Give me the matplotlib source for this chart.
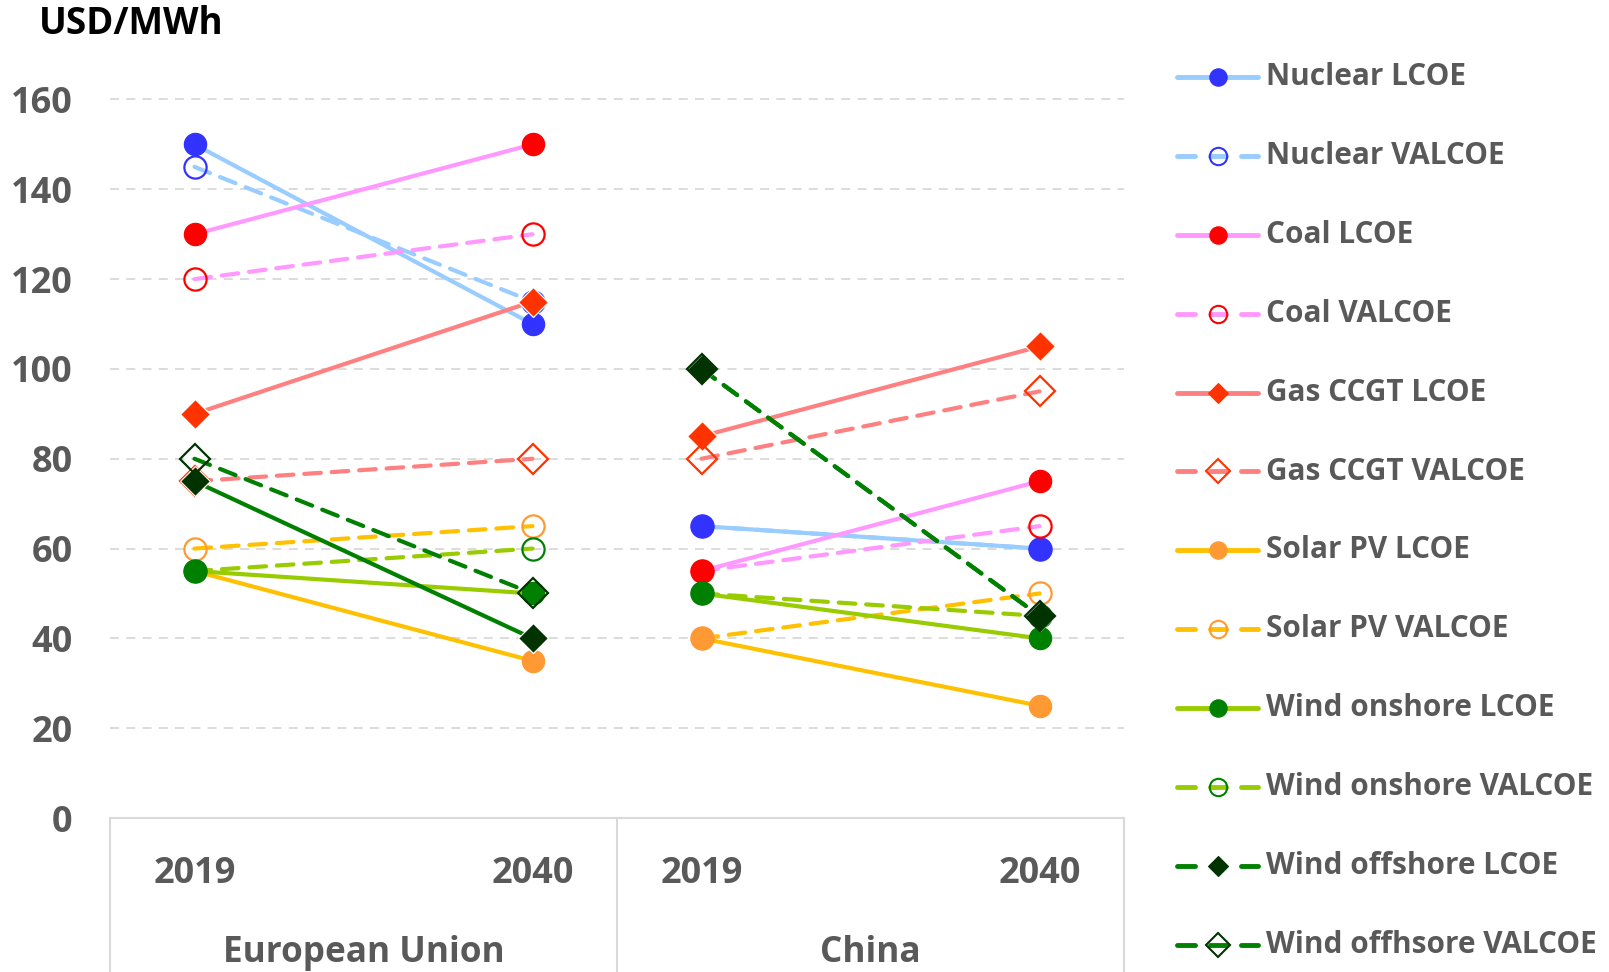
import numpy as np
import matplotlib
matplotlib.use("Agg")
import matplotlib.pyplot as plt
from matplotlib.lines import Line2D

plt.rcParams["font.family"] = ["Open Sans", "DejaVu Sans"]

# Values per series: [EU 2019, EU 2040, China 2019, China 2040]  (USD/MWh)
nuclear_lcoe = [150, 110, 65, 60]
nuclear_valcoe = [145, 115, 65, 60]
coal_lcoe = [130, 150, 55, 75]
coal_valcoe = [120, 130, 55, 65]
gas_lcoe = [90, 115, 85, 105]
gas_valcoe = [75, 80, 80, 95]
solar_lcoe = [55, 35, 40, 25]
solar_valcoe = [60, 65, 40, 50]
onshore_lcoe = [55, 50, 50, 40]
onshore_valcoe = [55, 60, 50, 45]
offshore_lcoe = [75, 40, 100, 45]
offshore_valcoe = [80, 50, 100, 45]

series_names = [
    "Nuclear LCOE", "Nuclear VALCOE", "Coal LCOE", "Coal VALCOE",
    "Gas CCGT LCOE", "Gas CCGT VALCOE", "Solar PV LCOE", "Solar PV VALCOE",
    "Wind onshore LCOE", "Wind onshore VALCOE", "Wind offshore LCOE",
    "Wind offhsore VALCOE",
]
series_values = [
    nuclear_lcoe, nuclear_valcoe, coal_lcoe, coal_valcoe, gas_lcoe, gas_valcoe,
    solar_lcoe, solar_valcoe, onshore_lcoe, onshore_valcoe, offshore_lcoe,
    offshore_valcoe,
]
year_labels = ["2019", "2040", "2019", "2040"]
regions = ["European Union", "China"]
y_ticks = [0, 20, 40, 60, 80, 100, 120, 140, 160]

# style: line colour, marker, marker colour, filled, (EU linestyle, China linestyle)
styles = [
    ("#99CCFF", "o", "#3333FF", True, ("-", "-")),
    ("#99CCFF", "o", "#3333FF", False, ("--", "--")),
    ("#FF99FF", "o", "#FF0000", True, ("-", "-")),
    ("#FF99FF", "o", "#FF0000", False, ("--", "--")),
    ("#FF8080", "D", "#FF3300", True, ("-", "-")),
    ("#FF8080", "D", "#FF3300", False, ("--", "--")),
    ("#FFC000", "o", "#FF9933", True, ("-", "-")),
    ("#FFC000", "o", "#FF9933", False, ("--", "--")),
    ("#99CC00", "o", "#008000", True, ("-", "-")),
    ("#99CC00", "o", "#008000", False, ("--", "--")),
    ("#008000", "D", "#003300", True, ("-", "--")),
    ("#008000", "D", "#003300", False, ("--", "--")),
]

W, H = 1609, 972
fig = plt.figure(figsize=(W / 100, H / 100), dpi=100)
fig.patch.set_facecolor("white")

left, right, top, bottom = 110, 1124, 99.5, 818
ax = fig.add_axes([left / W, 1 - bottom / H, (right - left) / W, (bottom - top) / H])

# six category slots: year points sit at slots 0, 2 (EU) and 3, 5 (China)
x_pos = [0, 2, 3, 5]
ax.set_xlim(-0.5, 5.5)
ax.set_ylim(0, 160)

TEXT = "#595959"
GRID = "#D9D9D9"
DASH = (4, 2.6)

for vals, (lc, mk, mc, filled, ls) in zip(series_values, styles):
    for g in range(2):
        xs = x_pos[2 * g:2 * g + 2]
        ys = vals[2 * g:2 * g + 2]
        line, = ax.plot(xs, ys, color=lc, lw=3, solid_capstyle="round",
                        dash_capstyle="round", zorder=2)
        if ls[g] == "--":
            line.set_dashes(DASH)

for vals, (lc, mk, mc, filled, ls) in zip(series_values, styles):
    size = 16 if mk == "o" else 15
    if filled:
        edge, ew = ("white" if mk == "D" else mc), 0.9
    else:
        edge, ew = mc, 1.6
    ax.plot(x_pos, vals, ls="none", marker=mk, markersize=size,
            markerfacecolor=mc if filled else "none", markeredgecolor=edge,
            markeredgewidth=ew, zorder=3, clip_on=False)

# axes styling
for s in ["top", "right", "left"]:
    ax.spines[s].set_visible(False)
ax.spines["bottom"].set_color(GRID)
ax.spines["bottom"].set_linewidth(1.5)
ax.spines["bottom"].set_zorder(1)

ax.set_yticks(y_ticks)
ax.set_yticklabels([str(v) for v in y_ticks], fontsize=26, fontweight="bold", color=TEXT)
ax.tick_params(axis="y", length=0, pad=27)
ax.set_xticks([])
ax.yaxis.grid(True, color=GRID, lw=1.3, linestyle=(0, (5, 4)))
for gl in ax.get_ygridlines():
    gl.set_clip_on(False)
ax.set_axisbelow(True)

# category axis: year labels, region labels and separators
xt = ax.get_xaxis_transform()
ax_h = bottom - top
for x, lab in zip(x_pos, year_labels):
    ax.text(x, -(874 - bottom) / ax_h, lab, transform=xt, ha="center", va="center",
            fontsize=26, fontweight="bold", color=TEXT)
for x, lab in zip([1, 4], regions):
    ax.text(x, -(953 - bottom) / ax_h, lab, transform=xt, ha="center", va="center",
            fontsize=25.3, fontweight="bold", color=TEXT)
for x in [-0.5, 2.5, 5.5]:
    ax.plot([x, x], [0, -0.3], transform=xt, color=GRID, lw=1.5, clip_on=False, zorder=1)

# unit label
fig.text(39 / W, 1 - 24 / H, "USD/MWh", ha="left", va="center", fontsize=26.5,
         fontweight="bold", color="black")

# legend drawn row by row
row0, row_step = 77, 78.9
hx0, hx1, mx, tx = 1177, 1258, 1218, 1266
for i, (name, (lc, mk, mc, filled, ls)) in enumerate(zip(series_names, styles)):
    yc = 1 - (row0 + i * row_step) / H
    dashed = "VALCOE" in name or "offshore" in name
    if dashed:
        segs = [(hx0, hx0 + 18), (hx1 - 17, hx1)]
        if not filled:
            segs.append((mx - 8, mx + 8))
    else:
        segs = [(hx0, hx1)]
    for a, b in segs:
        fig.add_artist(Line2D([a / W, b / W], [yc, yc], transform=fig.transFigure,
                              color=lc, lw=3.5, solid_capstyle="round"))
    if mk == "o":
        msize = 12.5
    else:
        msize = 10.5 if filled else 12
    fig.add_artist(Line2D([mx / W], [yc], transform=fig.transFigure, ls="none",
                          marker=mk, markersize=msize,
                          markerfacecolor=mc if filled else "none",
                          markeredgecolor=mc, markeredgewidth=1.5 if not filled else 0.8))
    fig.text(tx / W, yc, name, ha="left", va="center", fontsize=21.4,
             fontweight="bold", color=TEXT)

fig.savefig("out.png", dpi=100, facecolor="white")
